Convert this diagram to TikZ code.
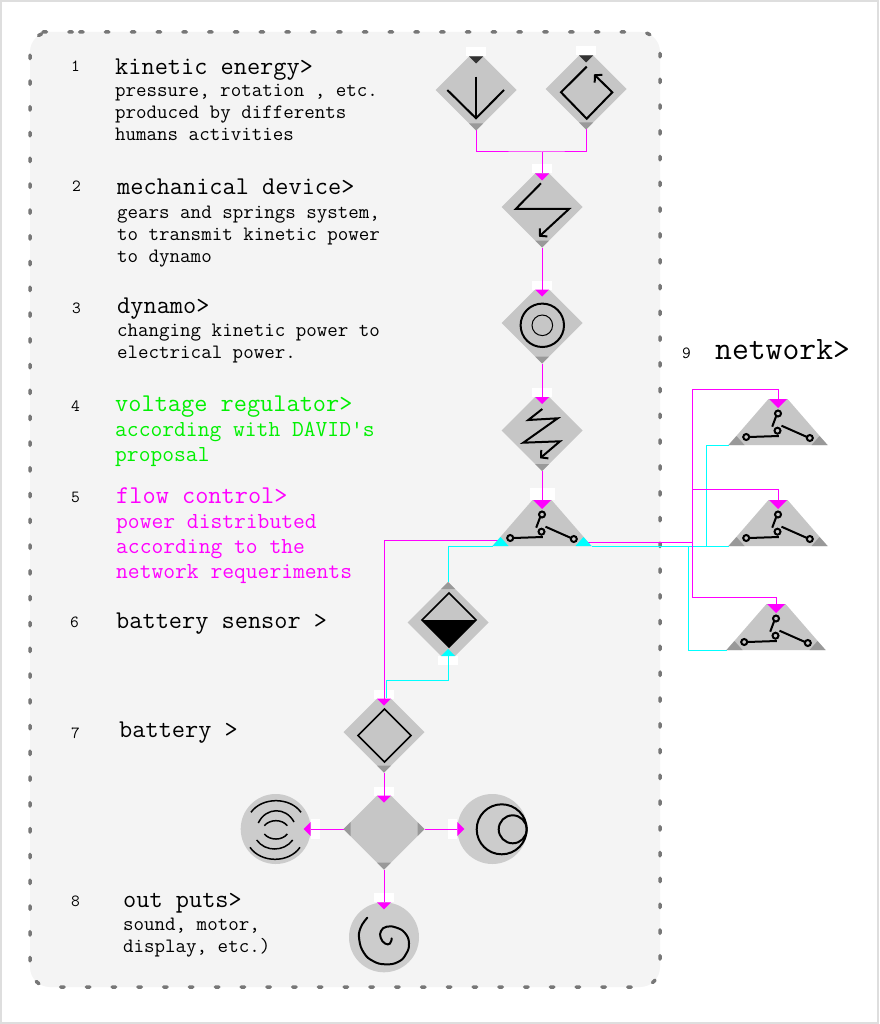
\documentclass[tikz,border=0pt]{standalone}
\usepackage{fontspec}
\usetikzlibrary{calc,arrows.meta,shapes.geometric}
\definecolor{bodygray}{HTML}{C6C6C6}
\definecolor{rndgray}{HTML}{CCCCCC}
\definecolor{tipgray}{HTML}{999999}
\definecolor{darktip}{HTML}{333333}
\definecolor{panel}{HTML}{F4F4F4}
\definecolor{dotgray}{HTML}{777777}
\definecolor{voltgreen}{HTML}{00F000}
\definecolor{netmag}{HTML}{FF00FF}
\definecolor{netcya}{HTML}{00FFFF}
\newcommand{\wcap}[2]{\fill[white,shift={#1},rotate=#2] (-10,-9) rectangle (10,0);}
\newcommand{\tip}[3]{\fill[#3,shift={#1},rotate=#2] (-7,0) -- (7,0) -- (0,7) -- cycle;}
\newcommand{\swtop}[1]{\fill[netmag] ($(#1)+(-9,0)$) -- ++(18,0) -- ++(-9,9) -- cycle;}
\newcommand{\swcorners}[2]{\fill[#2] (#1.left corner) -- ++(16,0) -- ++(-8,-9) -- cycle;
  \fill[#2] (#1.right corner) -- ++(-16,0) -- ++(8,-9) -- cycle;}
\tikzset{swglyph/.pic={
  \draw[glyph] (0,14.5) circle (3);
  \draw[glyph] (-1.8,17) -- (-5.8,27.7);
  \draw[glyph] (-0.5,31.7) circle (3);
  \draw[glyph] (-31.8,38) circle (3);
  \draw[glyph] (-28.8,38) -- (0.8,37);
  \draw[glyph] (3.5,26.7) -- (29,38);
  \draw[glyph] (31.8,39) circle (3);
}}
\begin{document}
\begin{tikzpicture}[x=1pt,y=-1pt]
\tikzstyle{dia} = [diamond,aspect=1,fill=bodygray,inner sep=0pt,outer sep=0pt,minimum width=81pt,minimum height=81pt]
\tikzstyle{swi} = [isosceles triangle,isosceles triangle stretches,shape border rotate=90,anchor=lower side,fill=bodygray,inner sep=0pt,outer sep=0pt,minimum width=99pt,minimum height=57pt]
\tikzstyle{rnd} = [circle,fill=rndgray,inner sep=0pt,outer sep=0pt,minimum size=70pt]
\tikzstyle{glyph} = [black,line width=2pt]
\tikzstyle{mid glyph} = [black,line width=1.5pt]
\tikzstyle{thin glyph} = [black,line width=1pt]
\tikzstyle{barb} = [-{Straight Barb[length=5pt,width=11pt]}]
\tikzstyle{mag} = [netmag,line width=1pt]
\tikzstyle{cya} = [netcya,line width=1pt]
\tikzstyle{head} = [anchor=base west,inner sep=0pt,font=\ttfamily\fontsize{25.6}{25.6}\selectfont]
\tikzstyle{small} = [anchor=base west,inner sep=0pt,align=left,font=\ttfamily\fontsize{20.4}{22}\selectfont]
\tikzstyle{mid} = [anchor=base west,inner sep=0pt,align=left,font=\ttfamily\fontsize{22.9}{25}\selectfont]
\tikzstyle{num} = [anchor=base west,inner sep=0pt,font=\ttfamily\fontsize{17}{17}\selectfont]

%%%%%% page and panel
\useasboundingbox (0,0) rectangle (879,1024);
\draw[fill=white,draw=black!13,line width=2pt] (1,1) rectangle (878,1023);
\draw[fill=panel,draw=dotgray,line width=3.5pt,line cap=round,rounded corners=20pt,dash pattern=on 3.5pt off 22.28pt] (59.7,32) -- (660,32) -- (660,987) -- (30,987) -- (30,32) -- cycle;

%%%%%% blocks
\node[dia] (kin1) at (476,90) {};
\node[dia] (kin2) at (586,89) {};
\node[dia] (gear) at (542,207) {};
\node[dia] (dyn) at (542,323) {};
\node[dia] (reg) at (542,430.5) {};
\node[swi] (flow) at (542,546) {};
\node[dia] (sens) at (448,622.5) {};
\node[dia] (batt) at (384,732) {};
\node[dia] (out) at (384,829) {};
\node[rnd] (snd) at (275.7,829) {};
\node[rnd] (mot) at (492.3,829) {};
\node[rnd] (dsp) at (384,937.3) {};
\node[swi] (net1) at (778,445) {};
\node[swi] (net2) at (778,546) {};
\node[swi] (net3) at (776,650) {};
\coordinate (flowtop) at ($(flow.lower side)+(0,-46)$);
\coordinate (net1top) at ($(net1.lower side)+(0,-46)$);
\coordinate (net2top) at ($(net2.lower side)+(0,-46)$);
\coordinate (net3top) at ($(net3.lower side)+(0,-46)$);

%%%%%% white caps
\wcap{($(kin1.north)+(0,7)$)}{0}
\wcap{($(kin2.north)+(0,7)$)}{0}
\wcap{($(gear.north)+(0,7)$)}{0}
\wcap{($(dyn.north)+(0,7)$)}{0}
\wcap{($(reg.north)+(0,7)$)}{0}
\fill[white] ($(flowtop)+(-12.5,-12)$) rectangle ++(25,12);
\fill[white] ($(net1top)+(-12.5,-12)$) rectangle ++(25,12);
\fill[white] ($(net2top)+(-12.5,-12)$) rectangle ++(25,12);
\fill[white] ($(net3top)+(-12.5,-12)$) rectangle ++(25,12);
\wcap{($(sens.south)+(0,-7)$)}{180}
\wcap{($(batt.north)+(0,7)$)}{0}
\wcap{($(out.north)+(0,7)$)}{0}
\wcap{(snd.east)}{-90}
\wcap{(mot.west)}{90}
\wcap{(dsp.north)}{0}

%%%%%% connectors
\coordinate (join) at (542,152);
\coordinate (flowl) at (498,540);
\coordinate (flowr) at (587,542);
\coordinate (magr) at (692,542);
\coordinate (cyb1) at (706,546);
\coordinate (cyb3) at (688,546);
\coordinate (sensb) at (448,680);
\coordinate (battc) at (386,698);
% cyan
\draw[cya] (flow.left corner) -| (sens.north);
\draw[cya] (flow.right corner) -- (net2.left corner);
\draw[cya] (cyb1) |- (net1.left corner);
\draw[cya] (cyb3) |- (net3.left corner);
\draw[cya] ($(sens.south)+(0,-7)$) |- (sensb) -| (battc);
% magenta
\draw[mag] (kin1.south) |- (join) -| (kin2.south);
\draw[mag] (join) -- ($(gear.north)+(0,7)$);
\draw[mag] (gear.south) -- ($(dyn.north)+(0,7)$);
\draw[mag] (dyn.south) -- ($(reg.north)+(0,7)$);
\draw[mag] (reg.south) -- (flowtop);
\draw[mag] (flowl) -| ($(batt.north)+(0,7)$);
\draw[mag] (flowr) -- (magr);
\draw[mag] (magr) -- (692,389) -| (net1top);
\draw[mag] (magr) -- (692,489) -| (net2top);
\draw[mag] (magr) -- (692,597) -| (net3top);
\draw[mag] (batt.south) -- ($(out.north)+(0,7)$);
\draw[mag] (out.west) -- (snd.east);
\draw[mag] (out.east) -- (mot.west);
\draw[mag] (out.south) -- (dsp.north);

%%%%%% tips
\tip{($(kin1.north)+(0,7)$)}{0}{darktip}
\tip{($(kin2.north)+(0,7)$)}{0}{darktip}
\tip{($(gear.north)+(0,7)$)}{0}{netmag}
\tip{($(dyn.north)+(0,7)$)}{0}{netmag}
\tip{($(reg.north)+(0,7)$)}{0}{netmag}
\tip{($(batt.north)+(0,7)$)}{0}{netmag}
\tip{($(out.north)+(0,7)$)}{0}{netmag}
\tip{(dsp.north)}{0}{netmag}
\tip{(snd.east)}{-90}{netmag}
\tip{(mot.west)}{90}{netmag}
\tip{($(sens.south)+(0,-7)$)}{180}{netcya}
\tip{($(sens.north)+(0,7)$)}{180}{tipgray}
\tip{($(kin1.south)+(0,-7)$)}{0}{tipgray}
\tip{($(kin2.south)+(0,-7)$)}{0}{tipgray}
\tip{($(gear.south)+(0,-7)$)}{0}{tipgray}
\tip{($(dyn.south)+(0,-7)$)}{0}{tipgray}
\tip{($(reg.south)+(0,-7)$)}{0}{tipgray}
\tip{($(batt.south)+(0,-7)$)}{0}{tipgray}
\tip{($(out.south)+(0,-7)$)}{0}{tipgray}
\tip{($(out.west)+(7,0)$)}{-90}{tipgray}
\tip{($(out.east)+(-7,0)$)}{90}{tipgray}
\swtop{flowtop}
\swtop{net1top}
\swtop{net2top}
\swtop{net3top}
\swcorners{flow}{netcya}
\swcorners{net1}{tipgray}
\swcorners{net2}{tipgray}
\swcorners{net3}{tipgray}

%%%%%% glyphs
\draw[glyph] (476,76.7) -- (476,118.3);
\draw[glyph] (447.3,90) -- (476,118.3) -- (504,90);
\draw[glyph,barb] (586.7,66.7) -- (561,92.3) -- (586.7,118.7) -- (612.3,92.3) -- (594,74.3);
\draw[glyph,barb] (541,183.3) -- (515.7,209) -- (569,209) -- (539,236.7);
\draw[glyph] (dyn) ++(0.3,2.3) circle (21.7);
\draw[thin glyph] (dyn) ++(0.3,2.3) circle (10.3);
\draw[glyph,barb] (542.3,409) -- (528.3,420) -- (557.7,418.3) -- (523.3,442.7) -- (560,441.3) -- (540,458.3);
\fill[black] (422,620) -- (476,620) -- (449,647) -- cycle;
\draw[mid glyph] (449,593) -- (476,620) -- (449,647) -- (422,620) -- cycle;
\draw[mid glyph] (384.5,709) -- (411,735.5) -- (384.5,762) -- (358,735.5) -- cycle;
\pic at (flowtop) {swglyph};
\pic at (net1top) {swglyph};
\pic at (net2top) {swglyph};
\pic at (net3top) {swglyph};
% sound
\draw[mid glyph] (251,812.3) .. controls (262,796.8) and (290,796.8) .. (301,812.3);
\draw[mid glyph] (258.3,823) .. controls (266,806.8) and (286,806.8) .. (294,822);
\draw[mid glyph] (264.3,825.7) .. controls (270,819) and (282,819) .. (287.3,825.7);
\draw[mid glyph] (264.3,834) .. controls (270,840.7) and (282,840.7) .. (287.3,834);
\draw[mid glyph] (256.7,840) .. controls (265,852) and (284,852) .. (292.7,840);
\draw[mid glyph] (250,847.3) .. controls (261,863.3) and (289,863.3) .. (300,847.3);
% motor
\draw[glyph] (501.7,829.3) circle (25);
\draw[glyph] (512.7,829.3) circle (14);
% display
\draw[glyph,line cap=round] plot[smooth,tension=0.8] coordinates {(367.3,917.7) (360.5,928) (359.3,940) (364,953) (373,961) (385,964.3) (398,962) (406,954) (409,943.3) (405,933) (396,927.5) (386.7,926.7) (381,931) (380.7,937.7) (385,943.5) (390,943.5) (391.7,938.3)};

%%%%%% texts
\node[num] (n1) at (71,71.7) {1};
\node[head] (t1) at (115,74.5) {kinetic energy>};
\node[small] (s1) at (115,141) {pressure, rotation , etc.\\produced by differents\\humans activities};
\node[num] (n2) at (72,192) {2};
\node[head] (t2) at (117,194.5) {mechanical device>};
\node[small] (s2) at (117,262) {gears and springs system,\\to transmit kinetic power\\to dynamo};
\node[num] (n3) at (72,313) {3};
\node[head] (t3) at (117,313) {dynamo>};
\node[small] (s3) at (117,358) {changing kinetic power to\\electrical power.};
\node[num] (n4) at (71,411) {4};
\node[head,text=voltgreen] (t4) at (115,411.5) {voltage regulator>};
\node[mid,text=voltgreen] (s4) at (115,461) {according with DAVID's\\proposal};
\node[num] (n5) at (71,502) {5};
\node[head,text=netmag] (t5) at (116,503.5) {flow control>};
\node[mid,text=netmag] (s5) at (116,578) {power distributed\\according to the\\network requeriments};
\node[num] (n6) at (70,627) {6};
\node[head] (t6) at (116,628.5) {battery sensor >};
\node[num] (n7) at (71,738) {7};
\node[head] (t7) at (119,737.5) {battery >};
\node[num] (n8) at (71,906) {8};
\node[head] (t8) at (123,907.5) {out puts>};
\node[small] (s8) at (123,952) {sound, motor,\\display, etc.)};
\node[num] (n9) at (682,358) {9};
\node[anchor=base west,inner sep=0pt,font=\ttfamily\fontsize{32.7}{32.7}\selectfont] (t9) at (715,359.5) {network>};
\end{tikzpicture}
\end{document}
